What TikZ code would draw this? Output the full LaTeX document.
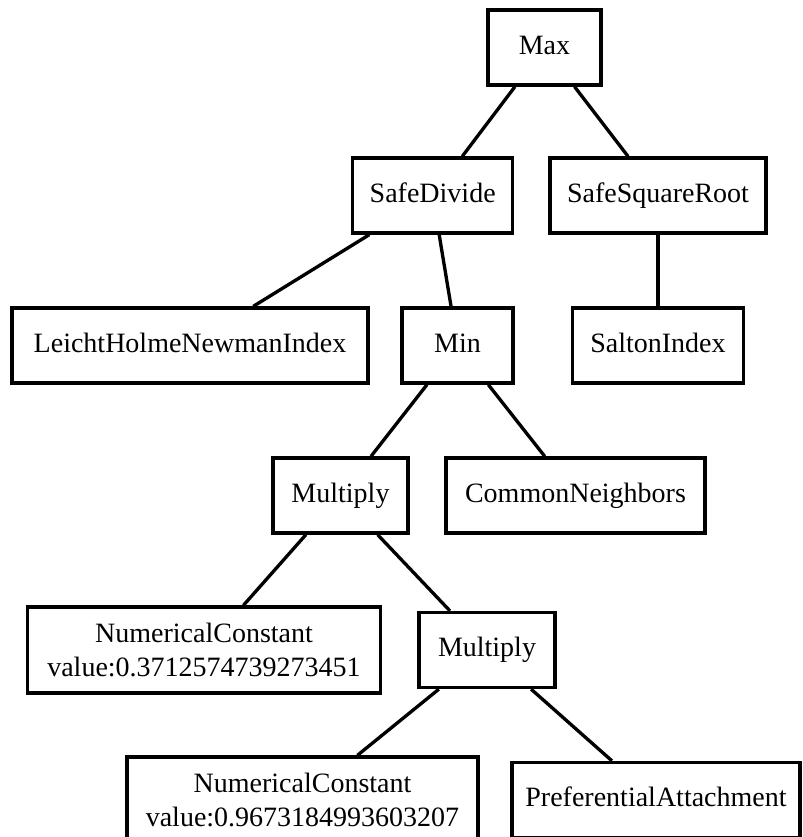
\documentclass[tikz,border=0pt]{standalone}
\usepackage{fontspec}
\setmainfont{Liberation Serif}

\begin{document}
\begin{tikzpicture}[x=0.75pt, y=-0.75pt,
    nodo/.style={draw, rectangle, line width=2.5pt, inner sep=0pt,
                 minimum height=56.25pt, align=center,
                 text height=14.6pt, text depth=4.6pt,
                 font=\fontsize{21}{25.5}\selectfont},
    nododoble/.style={nodo, minimum height=64.5pt,
                 text height={}, text depth={}},
    arista/.style={line width=2.5pt}]

    % --- Lienzo ---
    \useasboundingbox (0,0) rectangle (802,837);
    \clip (0,0) rectangle (802,837);
    \fill[white] (0,0) rectangle (802,837);

    % --- Nivel 0 y 1 ---
    \node[nodo, minimum width=84.75pt] (max) at (544.5,47.5) {Max};
    \node[nodo, minimum width=120pt] (safediv) at (432.7,195.5) {SafeDivide};
    \node[nodo, minimum width=162pt] (safesqrt) at (658,195.5) {SafeSquareRoot};

    % --- Nivel 2 ---
    \node[nodo, minimum width=267pt] (lhn) at (190,345.5) {LeichtHolmeNewmanIndex};
    \node[nodo, minimum width=83.25pt] (min) at (457.5,345.5) {Min};
    \node[nodo, minimum width=128.25pt] (salton) at (658,345.5) {SaltonIndex};

    % --- Nivel 3 ---
    \node[nodo, minimum width=101.25pt] (mult1) at (340.5,495.5) {Multiply};
    \node[nodo, minimum width=194.25pt] (common) at (575.5,495.5) {CommonNeighbors};

    % --- Nivel 4 ---
    \node[nododoble, minimum width=264.75pt] (const1) at (204,650)
        {NumericalConstant\\value:0.3712574739273451};
    \node[nodo, minimum width=102pt] (mult2) at (487,650) {Multiply};

    % --- Nivel 5 ---
    \node[nododoble, minimum width=263.25pt] (const2) at (302.5,800)
        {NumericalConstant\\value:0.9673184993603207};
    \node[nodo, minimum width=216pt] (prefatt) at (656,800) {PreferentialAttachment};

    % --- Aristas ---
    \draw[arista] (max) -- (safediv);
    \draw[arista] (max) -- (safesqrt);
    \draw[arista] (safediv) -- (lhn);
    \draw[arista] (safediv) -- (min);
    \draw[arista] (safesqrt) -- (salton);
    \draw[arista] (min) -- (mult1);
    \draw[arista] (min) -- (common);
    \draw[arista] (mult1) -- (const1);
    \draw[arista] (mult1) -- (mult2);
    \draw[arista] (mult2) -- (const2);
    \draw[arista] (mult2) -- (prefatt);
\end{tikzpicture}
\end{document}
